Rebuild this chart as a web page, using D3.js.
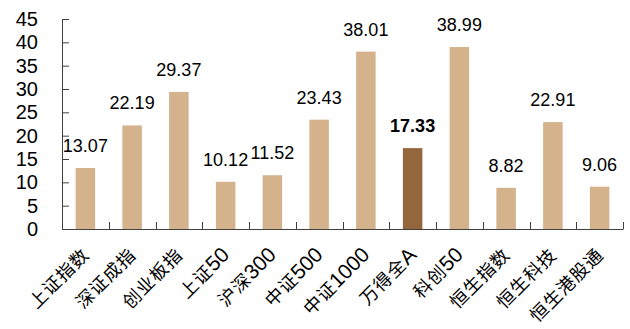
<!DOCTYPE html>
<html>
<head>
<meta charset="utf-8">
<script src="https://cdn.jsdelivr.net/npm/d3@7"></script>
<style>
  html, body { margin: 0; padding: 0; background: #fff; }
  svg { display: block; }
  text { font-family: "Liberation Sans", Arial, "Noto Sans CJK SC", sans-serif; }
</style>
</head>
<body>
<svg id="chart" width="630" height="329"></svg>
<script>
const categories = ["上证指数", "深证成指", "创业板指", "上证50", "沪深300", "中证500", "中证1000", "万得全A", "科创50", "恒生指数", "恒生科技", "恒生港股通"];
const values = [13.07, 22.19, 29.37, 10.12, 11.52, 23.43, 38.01, 17.33, 38.99, 8.82, 22.91, 9.06];
const highlight = ["万得全A"];
const yTicks = [0, 5, 10, 15, 20, 25, 30, 35, 40, 45];

const svg = d3.select("#chart");
const mLeft = 62, mRight = 623, mTop = 19, mBottom = 229;
const axisColor = "#404040";

const x = d3.scaleBand().domain(categories).range([mLeft, mRight]).paddingInner(0).paddingOuter(0);
const y = d3.scaleLinear().domain([0, 45]).range([mBottom, mTop]);
const barW = 19.5;

// bars
svg.append("g").selectAll("rect").data(categories).join("rect")
  .attr("x", d => x(d) + x.bandwidth() / 2 - barW / 2)
  .attr("y", (d, i) => y(values[i]))
  .attr("width", barW)
  .attr("height", (d, i) => y(0) - y(values[i]))
  .attr("fill", d => highlight.includes(d) ? "#94663B" : "#D4B28C");

// value labels
svg.append("g").selectAll("text").data(categories).join("text")
  .attr("x", d => x(d) + x.bandwidth() / 2)
  .attr("y", (d, i) => y(values[i]) - 16)
  .attr("text-anchor", "middle")
  .attr("font-size", 18)
  .attr("font-weight", d => highlight.includes(d) ? "bold" : "normal")
  .attr("fill", "#000")
  .text((d, i) => values[i].toFixed(2));

// y axis
const yAxis = d3.axisLeft(y).tickValues(yTicks).tickSize(-7).tickPadding(24).tickFormat(d3.format("d"));
const gy = svg.append("g").attr("transform", `translate(${mLeft},0)`).call(yAxis);
gy.select(".domain").attr("stroke", axisColor).attr("d", `M0.5,${mBottom}V${mTop}`);
gy.selectAll(".tick line").attr("stroke", axisColor);
gy.selectAll(".tick text").attr("font-size", 20).attr("fill", "#000")
  .attr("font-family", "'Liberation Sans', Arial, sans-serif");

// x axis with ticks at category boundaries
const gx = svg.append("g").attr("transform", `translate(0,${mBottom})`);
gx.append("line").attr("x1", mLeft).attr("x2", mRight + 0.5).attr("y1", 0.5).attr("y2", 0.5).attr("stroke", axisColor);
const bounds = categories.map(c => x(c) + x.bandwidth());
gx.selectAll("line.tk").data(bounds).join("line").attr("class", "tk")
  .attr("x1", d => Math.round(d) + 0.5).attr("x2", d => Math.round(d) + 0.5)
  .attr("y1", 0).attr("y2", -7).attr("stroke", axisColor);

// x labels: CJK runs and Latin runs sized separately
const xl = svg.append("g").selectAll("text").data(categories).join("text")
  .attr("transform", d => `translate(${x(d) + x.bandwidth() / 2 + 5},${mBottom + 27}) rotate(-45)`)
  .attr("text-anchor", "end")
  .attr("fill", "#000");
xl.each(function(d) {
  const runs = d.match(/[\x00-\x7F]+|[^\x00-\x7F]+/g);
  const t = d3.select(this);
  runs.forEach(r => {
    const latin = /^[\x00-\x7F]+$/.test(r);
    t.append("tspan")
      .attr("font-size", latin ? 21 : 18)
      .attr("font-family", latin ? "'Liberation Sans', Arial, sans-serif" : "'Noto Sans CJK SC', sans-serif")
      .attr("letter-spacing", latin ? 0 : 1)
      .text(r);
  });
});
</script>
</body>
</html>
